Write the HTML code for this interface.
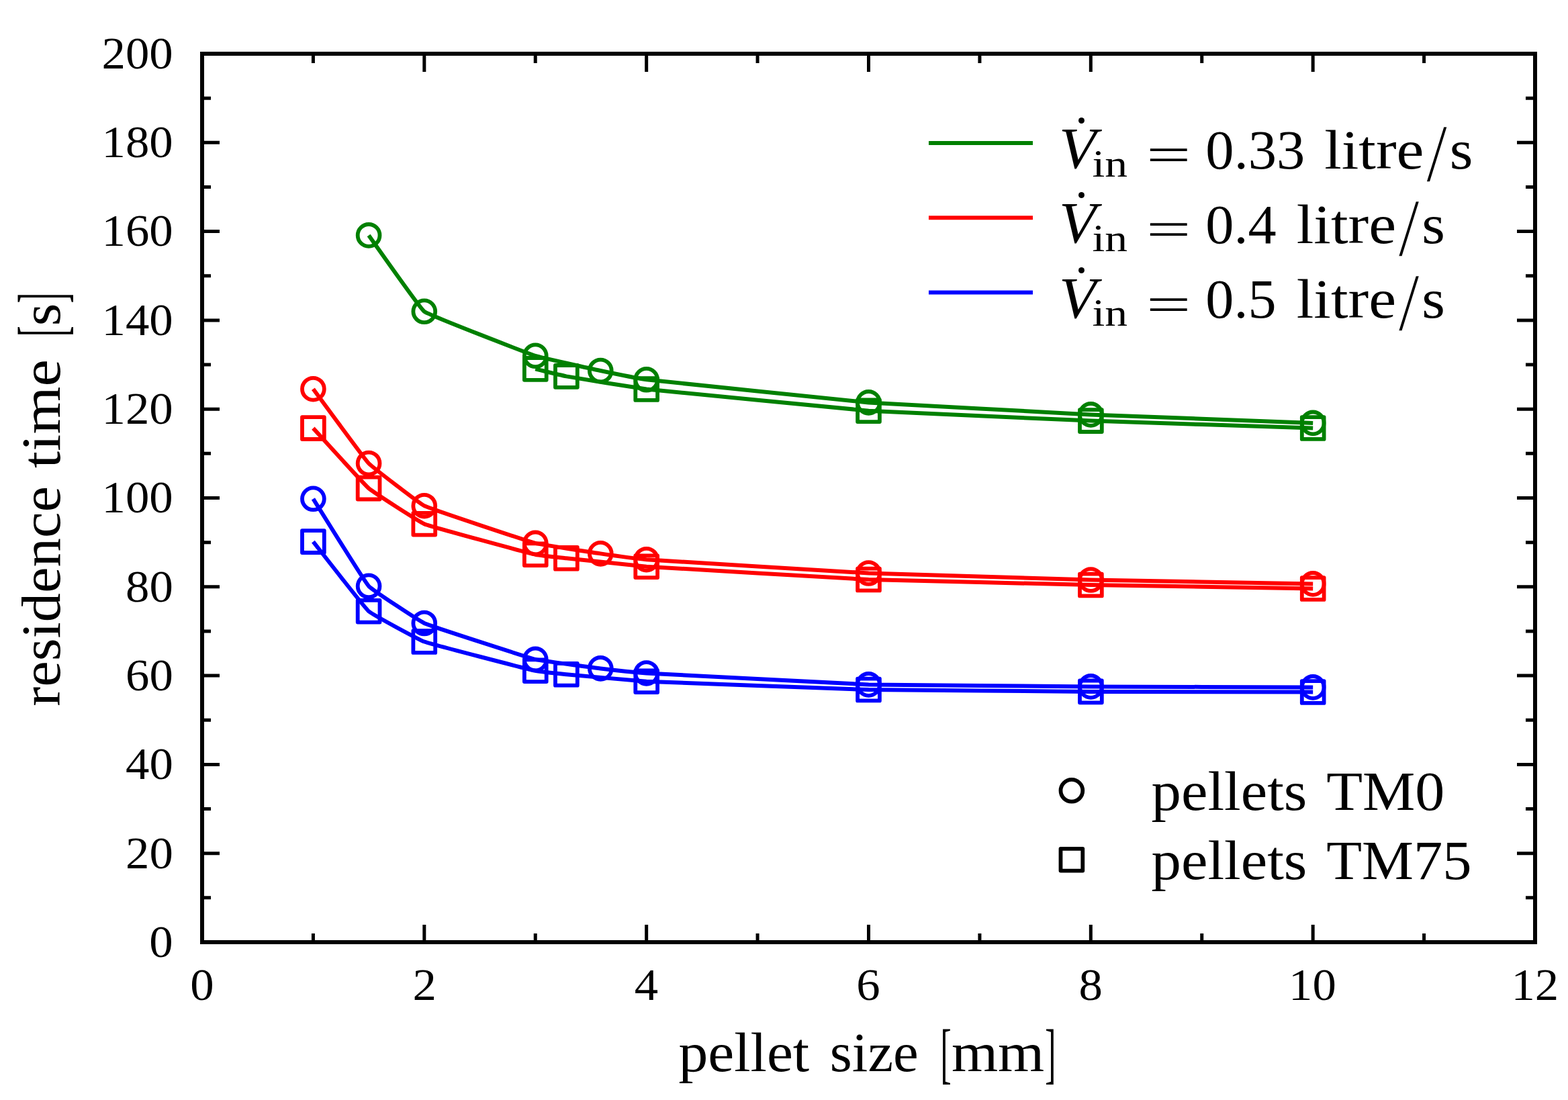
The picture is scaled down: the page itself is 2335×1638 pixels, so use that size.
<!DOCTYPE html>
<html lang="en"><head><meta charset="utf-8"><title>Residence time vs. pellet size</title>
<style>
html,body{margin:0;padding:0;background:#fff;}
body{width:2335px;height:1638px;overflow:hidden;}
svg{display:block;}
text{font-kerning:none;font-variant-ligatures:none;}
</style></head>
<body>
<svg width="2335" height="1638" viewBox="0 0 2335 1638" role="img" aria-label="residence time [s] versus pellet size [mm]">
<rect width="2335" height="1638" fill="#fff"/>
<g stroke="#000" stroke-linecap="butt" fill="none">
<rect x="301" y="80" width="1985" height="1323" stroke-width="6"/>
<path stroke-width="5" d="M466.42 1403V1390M466.42 80V94M631.83 1403V1377M631.83 80V107M797.25 1403V1390M797.25 80V94M962.67 1403V1377M962.67 80V107M1128.08 1403V1390M1128.08 80V94M1293.5 1403V1377M1293.5 80V107M1458.92 1403V1390M1458.92 80V94M1624.33 1403V1377M1624.33 80V107M1789.75 1403V1390M1789.75 80V94M1955.17 1403V1377M1955.17 80V107M2120.58 1403V1390M2120.58 80V94M301 1336.85H314M2286 1336.85H2272M301 1270.7H327M2286 1270.7H2259M301 1204.55H314M2286 1204.55H2272M301 1138.4H327M2286 1138.4H2259M301 1072.25H314M2286 1072.25H2272M301 1006.1H327M2286 1006.1H2259M301 939.95H314M2286 939.95H2272M301 873.8H327M2286 873.8H2259M301 807.65H314M2286 807.65H2272M301 741.5H327M2286 741.5H2259M301 675.35H314M2286 675.35H2272M301 609.2H327M2286 609.2H2259M301 543.05H314M2286 543.05H2272M301 476.9H327M2286 476.9H2259M301 410.75H314M2286 410.75H2272M301 344.6H327M2286 344.6H2259M301 278.45H314M2286 278.45H2272M301 212.3H327M2286 212.3H2259M301 146.15H314M2286 146.15H2272"/>
</g>
<g fill="#000" font-family="'Liberation Serif', serif">
<text><tspan x="222.39" y="1424.8" font-size="68" textLength="35.41" lengthAdjust="spacingAndGlyphs">0</tspan></text>
<text><tspan x="186.98" y="1292.5" font-size="68" textLength="70.82" lengthAdjust="spacingAndGlyphs">20</tspan></text>
<text><tspan x="186.98" y="1160.2" font-size="68" textLength="70.82" lengthAdjust="spacingAndGlyphs">40</tspan></text>
<text><tspan x="186.98" y="1027.9" font-size="68" textLength="70.82" lengthAdjust="spacingAndGlyphs">60</tspan></text>
<text><tspan x="186.98" y="895.6" font-size="68" textLength="70.82" lengthAdjust="spacingAndGlyphs">80</tspan></text>
<text><tspan x="151.56" y="763.3" font-size="68" textLength="106.23" lengthAdjust="spacingAndGlyphs">100</tspan></text>
<text><tspan x="151.56" y="631" font-size="68" textLength="106.23" lengthAdjust="spacingAndGlyphs">120</tspan></text>
<text><tspan x="151.56" y="498.7" font-size="68" textLength="106.23" lengthAdjust="spacingAndGlyphs">140</tspan></text>
<text><tspan x="151.56" y="366.4" font-size="68" textLength="106.23" lengthAdjust="spacingAndGlyphs">160</tspan></text>
<text><tspan x="151.56" y="234.1" font-size="68" textLength="106.23" lengthAdjust="spacingAndGlyphs">180</tspan></text>
<text><tspan x="151.56" y="101.8" font-size="68" textLength="106.23" lengthAdjust="spacingAndGlyphs">200</tspan></text>
<text><tspan x="283.29" y="1489.4" font-size="68" textLength="35.41" lengthAdjust="spacingAndGlyphs">0</tspan></text>
<text><tspan x="614.53" y="1489.4" font-size="68" textLength="35.41" lengthAdjust="spacingAndGlyphs">2</tspan></text>
<text><tspan x="944.82" y="1489.4" font-size="68" textLength="35.41" lengthAdjust="spacingAndGlyphs">4</tspan></text>
<text><tspan x="1275.33" y="1489.4" font-size="68" textLength="35.41" lengthAdjust="spacingAndGlyphs">6</tspan></text>
<text><tspan x="1606.63" y="1489.4" font-size="68" textLength="35.41" lengthAdjust="spacingAndGlyphs">8</tspan></text>
<text><tspan x="1918.99" y="1489.4" font-size="68" textLength="70.82" lengthAdjust="spacingAndGlyphs">10</tspan></text>
<text><tspan x="2250.43" y="1489.4" font-size="68" textLength="70.82" lengthAdjust="spacingAndGlyphs">12</tspan></text>
<text><tspan x="1010.49" y="1594.5" font-size="83" textLength="194.73" lengthAdjust="spacingAndGlyphs">pellet</tspan> <tspan x="1235.82" y="1594.5" font-size="83" textLength="131.92" lengthAdjust="spacingAndGlyphs">size</tspan> <tspan x="1400.4" y="1601.58" font-size="100.29" textLength="16.15" lengthAdjust="spacingAndGlyphs">[</tspan><tspan x="1416.93" y="1594.5" font-size="83" textLength="138.36" lengthAdjust="spacingAndGlyphs">mm</tspan><tspan x="1556.15" y="1601.58" font-size="100.29" textLength="16.15" lengthAdjust="spacingAndGlyphs">]</tspan></text>
<text transform="rotate(-90)"><tspan x="-1051.74" y="88.5" font-size="83" textLength="327.75" lengthAdjust="spacingAndGlyphs">residence</tspan> <tspan x="-697.29" y="88.5" font-size="83" textLength="162.26" lengthAdjust="spacingAndGlyphs">time</tspan> <tspan x="-501.13" y="95.58" font-size="100.29" textLength="15.85" lengthAdjust="spacingAndGlyphs">[</tspan><tspan x="-485.34" y="88.5" font-size="83" textLength="33.55" lengthAdjust="spacingAndGlyphs">s</tspan><tspan x="-451.52" y="95.58" font-size="100.29" textLength="15.85" lengthAdjust="spacingAndGlyphs">]</tspan></text>
<text><tspan x="1577.07" y="250.29" font-size="86.28" font-style="italic" textLength="55.32" lengthAdjust="spacingAndGlyphs">V</tspan><tspan x="1596.35" y="231.24" font-size="84.94" textLength="28.29" lengthAdjust="spacingAndGlyphs">˙</tspan><tspan x="1626.48" y="262.7" font-size="58" textLength="52.54" lengthAdjust="spacingAndGlyphs">in</tspan> <tspan x="1707.13" y="255.2" font-size="74.4" textLength="66.42" lengthAdjust="spacingAndGlyphs">=</tspan> <tspan x="1795.38" y="251" font-size="83" textLength="147.92" lengthAdjust="spacingAndGlyphs">0.33</tspan> <tspan x="1972.16" y="251" font-size="83" textLength="148.34" lengthAdjust="spacingAndGlyphs">litre</tspan><tspan x="2124" y="270" font-size="122.58" textLength="31.20" lengthAdjust="spacingAndGlyphs" stroke="#fff" stroke-width="1.3">/</tspan><tspan x="2158.65" y="251" font-size="83" textLength="34.67" lengthAdjust="spacingAndGlyphs">s</tspan></text>
<text><tspan x="1577.07" y="361.49" font-size="86.28" font-style="italic" textLength="55.32" lengthAdjust="spacingAndGlyphs">V</tspan><tspan x="1596.35" y="342.44" font-size="84.94" textLength="28.29" lengthAdjust="spacingAndGlyphs">˙</tspan><tspan x="1626.48" y="373.9" font-size="58" textLength="52.54" lengthAdjust="spacingAndGlyphs">in</tspan> <tspan x="1707.13" y="366.4" font-size="74.4" textLength="66.42" lengthAdjust="spacingAndGlyphs">=</tspan> <tspan x="1795.39" y="362.2" font-size="83" textLength="105.33" lengthAdjust="spacingAndGlyphs">0.4</tspan> <tspan x="1930.76" y="362.2" font-size="83" textLength="148.34" lengthAdjust="spacingAndGlyphs">litre</tspan><tspan x="2082.6" y="381.2" font-size="122.58" textLength="31.20" lengthAdjust="spacingAndGlyphs" stroke="#fff" stroke-width="1.3">/</tspan><tspan x="2117.25" y="362.2" font-size="83" textLength="34.67" lengthAdjust="spacingAndGlyphs">s</tspan></text>
<text><tspan x="1577.07" y="472.69" font-size="86.28" font-style="italic" textLength="55.32" lengthAdjust="spacingAndGlyphs">V</tspan><tspan x="1596.35" y="453.64" font-size="84.94" textLength="28.29" lengthAdjust="spacingAndGlyphs">˙</tspan><tspan x="1626.48" y="485.1" font-size="58" textLength="52.54" lengthAdjust="spacingAndGlyphs">in</tspan> <tspan x="1707.13" y="477.6" font-size="74.4" textLength="66.42" lengthAdjust="spacingAndGlyphs">=</tspan> <tspan x="1795.39" y="473.4" font-size="83" textLength="105.19" lengthAdjust="spacingAndGlyphs">0.5</tspan> <tspan x="1930.76" y="473.4" font-size="83" textLength="148.34" lengthAdjust="spacingAndGlyphs">litre</tspan><tspan x="2082.6" y="492.4" font-size="122.58" textLength="31.20" lengthAdjust="spacingAndGlyphs" stroke="#fff" stroke-width="1.3">/</tspan><tspan x="2117.25" y="473.4" font-size="83" textLength="34.67" lengthAdjust="spacingAndGlyphs">s</tspan></text>
<text><tspan x="1714.57" y="1205.7" font-size="83" textLength="231.84" lengthAdjust="spacingAndGlyphs">pellets</tspan> <tspan x="1975.21" y="1205.7" font-size="83" textLength="176.15" lengthAdjust="spacingAndGlyphs">TM0</tspan></text>
<text><tspan x="1714.57" y="1308.8" font-size="83" textLength="231.84" lengthAdjust="spacingAndGlyphs">pellets</tspan> <tspan x="1975.24" y="1308.8" font-size="83" textLength="216.14" lengthAdjust="spacingAndGlyphs">TM75</tspan></text>
</g>
<path d="M1383 213H1538" stroke="#008000" stroke-width="6"/>
<path d="M1383 324.2H1538" stroke="#ff0000" stroke-width="6"/>
<path d="M1383 435.4H1538" stroke="#0000ff" stroke-width="6"/>
<g fill="none" stroke="#000" stroke-width="5.8" stroke-linejoin="round">
<circle cx="1595.9" cy="1177.3" r="16.4"/>
<rect x="1579.5" y="1263.8" width="32.8" height="32.8"/>
</g>
<g stroke="#008000" fill="none" stroke-width="6" stroke-linejoin="round">
<path d="M549.1 350.4C554.4 357.67 624.69 458.28 631.8 463.8C638.91 469.32 788.71 527.12 797.3 529.8C805.89 532.48 885.49 550.14 894.3 552C903.11 553.86 953.8 563.98 962.7 565.3C971.6 566.62 1284.53 598.69 1293.5 599.4C1302.47 600.11 1615.41 616.99 1624.4 617.4C1633.39 617.81 1946.21 629.56 1955.2 629.9"/>
<path d="M797.3 549.4C806.05 551.49 834.57 558.64 843.4 560.4C852.23 562.16 953.77 578.35 962.7 579.5C971.63 580.65 1284.52 611.06 1293.5 611.7C1302.48 612.34 1615.41 626.25 1624.4 626.6C1633.39 626.95 1946.2 637.2 1955.2 637.5"/>
</g>
<g stroke="#008000" fill="none" stroke-width="5.8" stroke-linejoin="round">
<circle cx="549.1" cy="350.4" r="16.4"/>
<circle cx="631.8" cy="463.8" r="16.4"/>
<circle cx="797.3" cy="529.8" r="16.4"/>
<circle cx="894.3" cy="552" r="16.4"/>
<circle cx="962.7" cy="565.3" r="16.4"/>
<circle cx="1293.5" cy="599.4" r="16.4"/>
<circle cx="1624.4" cy="617.4" r="16.4"/>
<circle cx="1955.2" cy="629.9" r="16.4"/>
<rect x="780.9" y="533" width="32.8" height="32.8"/>
<rect x="827" y="544" width="32.8" height="32.8"/>
<rect x="946.3" y="563.1" width="32.8" height="32.8"/>
<rect x="1277.1" y="595.3" width="32.8" height="32.8"/>
<rect x="1608" y="610.2" width="32.8" height="32.8"/>
<rect x="1938.8" y="621.1" width="32.8" height="32.8"/>
</g>
<g stroke="#ff0000" fill="none" stroke-width="6" stroke-linejoin="round">
<path d="M466.4 579.2C471.78 586.41 542.77 683.6 549.1 690C555.43 696.4 623.85 748.98 631.8 753.2C639.75 757.42 788.56 806.75 797.3 808.9C806.04 811.05 885.39 823.06 894.3 824.35C903.21 825.64 953.74 832.35 962.7 833.2C971.66 834.05 1284.51 853.09 1293.5 853.5C1302.49 853.91 1615.4 863.28 1624.4 863.5C1633.4 863.72 1946.2 869.24 1955.2 869.4"/>
<path d="M466.4 637.6C472.51 644.21 542.2 721.32 549.1 727.1C556 732.88 623.58 776.53 631.8 780.2C640.02 783.87 788.47 823.96 797.3 825.7C806.13 827.44 834.46 830.25 843.4 831.25C852.34 832.25 953.73 842.97 962.7 843.7C971.67 844.43 1284.51 862.63 1293.5 863C1302.49 863.37 1615.4 870.82 1624.4 871C1633.4 871.18 1946.2 876.35 1955.2 876.5"/>
</g>
<g stroke="#ff0000" fill="none" stroke-width="5.8" stroke-linejoin="round">
<circle cx="466.4" cy="579.2" r="16.4"/>
<circle cx="549.1" cy="690" r="16.4"/>
<circle cx="631.8" cy="753.2" r="16.4"/>
<circle cx="797.3" cy="808.9" r="16.4"/>
<circle cx="894.3" cy="824.35" r="16.4"/>
<circle cx="962.7" cy="833.2" r="16.4"/>
<circle cx="1293.5" cy="853.5" r="16.4"/>
<circle cx="1624.4" cy="863.5" r="16.4"/>
<circle cx="1955.2" cy="869.4" r="16.4"/>
<rect x="450" y="621.2" width="32.8" height="32.8"/>
<rect x="532.7" y="710.7" width="32.8" height="32.8"/>
<rect x="615.4" y="763.8" width="32.8" height="32.8"/>
<rect x="780.9" y="809.3" width="32.8" height="32.8"/>
<rect x="827" y="814.85" width="32.8" height="32.8"/>
<rect x="946.3" y="827.3" width="32.8" height="32.8"/>
<rect x="1277.1" y="846.6" width="32.8" height="32.8"/>
<rect x="1608" y="854.6" width="32.8" height="32.8"/>
<rect x="1938.8" y="860.1" width="32.8" height="32.8"/>
</g>
<g stroke="#0000ff" fill="none" stroke-width="6" stroke-linejoin="round">
<path d="M466.4 742.8C471.23 750.39 542.81 866.37 549.1 872.8C555.39 879.23 623.7 924.07 631.8 928C639.9 931.93 788.53 979.88 797.3 981.9C806.07 983.92 885.37 994.32 894.3 995.4C903.23 996.48 953.73 1001.76 962.7 1002.45C971.67 1003.14 1284.5 1019.13 1293.5 1019.4C1302.5 1019.67 1615.4 1022.35 1624.4 1022.4C1633.4 1022.45 1946.2 1023.37 1955.2 1023.4"/>
<path d="M466.4 806.6C472.01 813.63 542.21 904.41 549.1 910.2C555.99 915.99 623.44 952.17 631.8 955.5C640.16 958.83 788.46 997.12 797.3 998.8C806.14 1000.48 834.45 1003.38 843.4 1004.3C852.35 1005.22 953.72 1014.14 962.7 1014.7C971.68 1015.26 1284.5 1026.79 1293.5 1027C1302.5 1027.21 1615.4 1029.85 1624.4 1029.9C1633.4 1029.95 1946.2 1030.48 1955.2 1030.5"/>
</g>
<g stroke="#0000ff" fill="none" stroke-width="5.8" stroke-linejoin="round">
<circle cx="466.4" cy="742.8" r="16.4"/>
<circle cx="549.1" cy="872.8" r="16.4"/>
<circle cx="631.8" cy="928" r="16.4"/>
<circle cx="797.3" cy="981.9" r="16.4"/>
<circle cx="894.3" cy="995.4" r="16.4"/>
<circle cx="962.7" cy="1002.45" r="16.4"/>
<circle cx="1293.5" cy="1019.4" r="16.4"/>
<circle cx="1624.4" cy="1022.4" r="16.4"/>
<circle cx="1955.2" cy="1023.4" r="16.4"/>
<rect x="450" y="790.2" width="32.8" height="32.8"/>
<rect x="532.7" y="893.8" width="32.8" height="32.8"/>
<rect x="615.4" y="939.1" width="32.8" height="32.8"/>
<rect x="780.9" y="982.4" width="32.8" height="32.8"/>
<rect x="827" y="987.9" width="32.8" height="32.8"/>
<rect x="946.3" y="998.3" width="32.8" height="32.8"/>
<rect x="1277.1" y="1010.6" width="32.8" height="32.8"/>
<rect x="1608" y="1013.5" width="32.8" height="32.8"/>
<rect x="1938.8" y="1014.1" width="32.8" height="32.8"/>
</g>
</svg>
</body></html>
